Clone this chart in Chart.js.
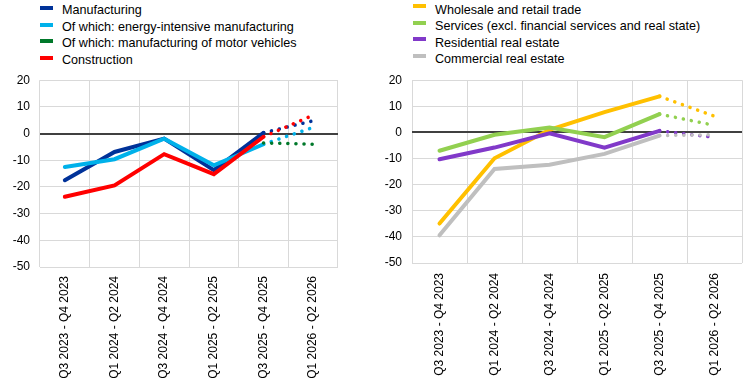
<!DOCTYPE html>
<html>
<head>
<meta charset="utf-8">
<script src="https://cdn.jsdelivr.net/npm/chart.js@4/dist/chart.umd.min.js"></script>
<style>
    body { margin: 0; background: #fff; font-family: "Liberation Sans", Arial, sans-serif; }
    #wrap { position: relative; width: 745px; height: 385px; overflow: hidden; }
    .legende { position: absolute; font-size: 12.6px; color: #000; }
    .legende div { position: relative; height: 16.6px; line-height: 16.6px; white-space: nowrap; }
    .legende span { position: absolute; left: 0; top: 6px; width: 13px; height: 4px; }
    .legende b { font-weight: normal; position: absolute; left: 22px; top: 2px; }
    #leg2 b { top: 3.5px; }
    canvas { position: absolute; top: 63px; }
</style>
</head>
<body>
<div id="wrap">
    <div class="legende" id="leg1" style="left:40px; top:0px; width:320px;"></div>
    <div class="legende" id="leg2" style="left:413px; top:-2px; width:330px;"></div>
    <canvas id="graph1" width="372" height="315" style="left:0px;"></canvas>
    <canvas id="graph2" width="373" height="315" style="left:372px;"></canvas>
</div>
<script>
// categories (x axis)
const categories = ['Q3 2023 - Q4 2023', 'Q1 2024 - Q2 2024', 'Q3 2024 - Q4 2024',
    'Q1 2025 - Q2 2025', 'Q3 2025 - Q4 2025', 'Q1 2026 - Q2 2026'];

// left panel
const labelsGauche = ['Manufacturing', 'Of which: energy-intensive manufacturing',
    'Of which: manufacturing of motor vehicles', 'Construction'];
const manufacturing = [-17.5, -6.9, -1.9, -13.7, 0.3, 4.8];
const energyIntensive = [-12.5, -9.6, -1.9, -11.9, -4, 2.3];
const motorVehicles = [null, null, null, null, -3.5, -4];
const construction = [-23.7, -19.4, -7.7, -15.2, -1.2, 6.9];
const couleursGauche = ['#003299', '#00B1EA', '#00782A', '#FF0000'];

// right panel
const labelsDroite = ['Wholesale and retail trade', 'Services (excl. financial services and real state)',
    'Residential real estate', 'Commercial real estate'];
const wholesale = [-34.9, -9.9, 1, 7.8, 13.8, 6.2];
const services = [-7, -0.9, 1.9, -1.8, 7, 2.7];
const residential = [-10.3, -5.8, -0.3, -5.8, 0.6, -1.9];
const commercial = [-39.4, -14, -12.4, -8.2, -1.2, -0.9];
const couleursDroite = ['#FFC000', '#92D050', '#8139C9', '#BFBFBF'];

// y axis ticks
const yMin = -50, yMax = 20, yStep = 10;

// first projected point (dotted after this index)
const debutPrevision = 4;

var police = { family: '"Liberation Sans", Arial, sans-serif', size: 12 };

function faireLegende(id, labels, couleurs) {
    var el = document.getElementById(id);
    labels.forEach(function (lab, i) {
        var d = document.createElement('div');
        d.innerHTML = '<span style="background:' + couleurs[i] + '"></span><b></b>';
        d.querySelector('b').textContent = lab;
        el.appendChild(d);
    });
}

function faireDatasets(series, labels, couleurs) {
    return series.map(function (s, i) {
        return {
            label: labels[i],
            data: s,
            borderColor: couleurs[i],
            backgroundColor: couleurs[i],
            borderWidth: 4,
            pointRadius: 0,
            tension: 0,
            fill: false,
            order: series.length - i,
            borderCapStyle: 'round',
            segment: {
                borderDash: ctx => ctx.p0DataIndex >= debutPrevision ? [0.1, 8] : undefined,
                borderWidth: ctx => ctx.p0DataIndex >= debutPrevision ? 3.5 : undefined
            }
        };
    });
}

function faireOptions(hauteurX, droitePad, xPad) {
    return {
        responsive: false,
        animation: false,
        layout: { padding: { top: 4, left: 0, right: droitePad, bottom: 0 } },
        plugins: { legend: { display: false }, tooltip: { enabled: false } },
        scales: {
            x: {
                offset: true,
                grid: { offset: true, color: '#D9D9D9', lineWidth: 1, drawTicks: false },
                border: { display: false },
                ticks: { minRotation: 90, maxRotation: 90, padding: xPad, color: '#000', font: police, autoSkip: false },
                afterFit: function (s) { s.height = hauteurX; }
            },
            y: {
                min: yMin,
                max: yMax,
                grid: {
                    drawTicks: false,
                    color: c => c.tick && c.tick.value === 0 ? '#404040' : '#D9D9D9',
                    lineWidth: c => c.tick && c.tick.value === 0 ? 2 : 1
                },
                border: { display: false },
                ticks: { stepSize: yStep, padding: 10, color: '#000', font: police },
                afterFit: function (s) { s.width = 40; }
            }
        }
    };
}

faireLegende('leg1', labelsGauche, couleursGauche);
faireLegende('leg2', labelsDroite, couleursDroite);

var ctx = document.getElementById('graph1').getContext('2d');
var graph1 = new Chart(ctx, {
    type: 'line',
    data: {
        labels: categories,
        datasets: faireDatasets([manufacturing, energyIntensive, motorVehicles, construction], labelsGauche, couleursGauche)
    },
    options: faireOptions(111, 34, 9)
});

var ctx = document.getElementById('graph2').getContext('2d');
var graph2 = new Chart(ctx, {
    type: 'line',
    data: {
        labels: categories,
        datasets: faireDatasets([wholesale, services, residential, commercial], labelsDroite, couleursDroite)
    },
    options: faireOptions(115, 3, 10)
});
</script>
</body>
</html>
